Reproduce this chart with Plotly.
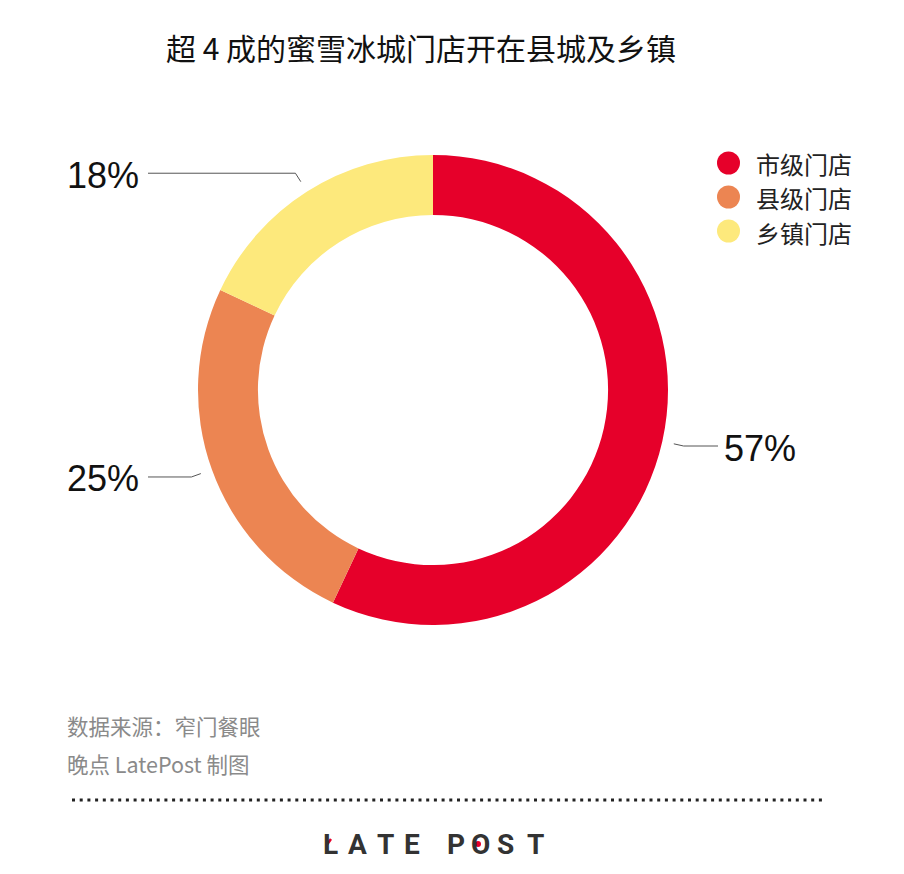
import math
import plotly.graph_objects as go

# ---- data ----
categories = ["市级门店", "县级门店", "乡镇门店"]
values = [57, 25, 18]
pct_labels = ["57%", "25%", "18%"]
colors = ["#E6002A", "#EC8552", "#FDE97C"]

title = "超 4 成的蜜雪冰城门店开在县城及乡镇"
source = "数据来源：窄门餐眼"
credit = "晚点 LatePost 制图"
logo_letters = ["L", "A", "T", "E", "P", "O", "S", "T"]

W, H = 904, 874
OFF = 8  # page body margin
CX, CY, R = 433, 390, 235  # donut placement (layout)


def px(x):
    return (x - OFF) / W


def py(y):
    return 1 - (y - OFF) / H


fig = go.Figure()
fig.add_trace(go.Pie(
    labels=categories, values=values, hole=0.745, sort=False,
    direction="clockwise", rotation=0, textinfo="none", hoverinfo="label+percent",
    marker=dict(colors=colors, line=dict(width=0)),
    domain=dict(x=[px(CX - R), px(CX + R)], y=[py(CY + R), py(CY - R)]),
    showlegend=False,
))

shapes = []
annotations = []

# leader lines + percentage labels derived from the values
total = sum(values)
cum = 0
for v, lab in zip(values, pct_labels):
    mid = (cum + v / 2) / total
    cum += v
    ang = math.radians(90 - mid * 360)
    sx, sy = CX + 1.05 * R * math.cos(ang), CY - 1.05 * R * math.sin(ang)
    bx, by = CX + (1.05 * R + 10) * math.cos(ang), CY - (1.05 * R + 10) * math.sin(ang)
    right = math.cos(ang) > 0
    ex = 718 if right else 148
    for (x0, y0, x1, y1) in [(sx, sy, bx, by), (bx, by, ex, by)]:
        shapes.append(dict(type="line", xref="paper", yref="paper",
                           x0=px(x0), y0=py(y0), x1=px(x1), y1=py(y1),
                           line=dict(color="#555555", width=1)))
    annotations.append(dict(
        text=lab, xref="paper", yref="paper",
        x=px(ex + 4) if right else px(ex - 7), y=py(by + 2),
        xanchor="left" if right else "right", yanchor="middle", showarrow=False,
        font=dict(family="Liberation Sans, Arial", size=36, color="#111111")))

# legend with round dots
for i, (c, col) in enumerate(zip(categories, colors)):
    yy = 163 + i * 34
    shapes.append(dict(type="circle", xref="paper", yref="paper",
                       x0=px(717), x1=px(740), y0=py(yy - 11.5), y1=py(yy + 11.5),
                       fillcolor=col, line=dict(width=0)))
    annotations.append(dict(text=c, xref="paper", yref="paper", x=px(754), y=py(yy + 1),
                            xanchor="left", yanchor="middle", showarrow=False,
                            font=dict(family="Noto Sans CJK SC", size=24, color="#222222")))

# title
annotations.append(dict(text=title, xref="paper", yref="paper", x=px(421), y=py(47),
                        xanchor="center", yanchor="middle", showarrow=False,
                        font=dict(family="Noto Sans CJK SC", size=30, color="#111111")))
# footer
annotations.append(dict(text=source, xref="paper", yref="paper", x=px(65), y=py(725),
                        xanchor="left", yanchor="middle", showarrow=False,
                        font=dict(family="Noto Sans CJK SC", size=21.5, color="#8A8A8A")))
annotations.append(dict(text=credit, xref="paper", yref="paper", x=px(65), y=py(763),
                        xanchor="left", yanchor="middle", showarrow=False,
                        font=dict(family="Noto Sans CJK SC", size=21.5, color="#8A8A8A")))
shapes.append(dict(type="line", xref="paper", yref="paper", x0=px(72), x1=px(824),
                   y0=py(800), y1=py(800), line=dict(color="#222222", width=3, dash="3px,4.7px")))
# logo letters
logo_x = [330, 357, 385, 412, 456, 481, 505, 535]
for ch, lx in zip(logo_letters, logo_x):
    annotations.append(dict(text=ch, xref="paper", yref="paper", x=px(lx), y=py(844),
                            xanchor="center", yanchor="middle", showarrow=False,
                            font=dict(family="Roboto", size=28, color="#333333", weight=700)))
shapes.append(dict(type="line", xref="paper", yref="paper", x0=px(326), x1=px(331),
                   y0=py(846), y1=py(839), line=dict(color="#E6002A", width=2.5)))
shapes.append(dict(type="circle", xref="paper", yref="paper", x0=px(475), x1=px(481),
                   y0=py(847), y1=py(841), fillcolor="#E6002A", line=dict(width=0)))

fig.update_layout(
    width=W, height=H, margin=dict(l=0, r=0, t=0, b=0),
    paper_bgcolor="white", plot_bgcolor="white",
    shapes=shapes, annotations=annotations,
)
fig.write_html("out.html")
